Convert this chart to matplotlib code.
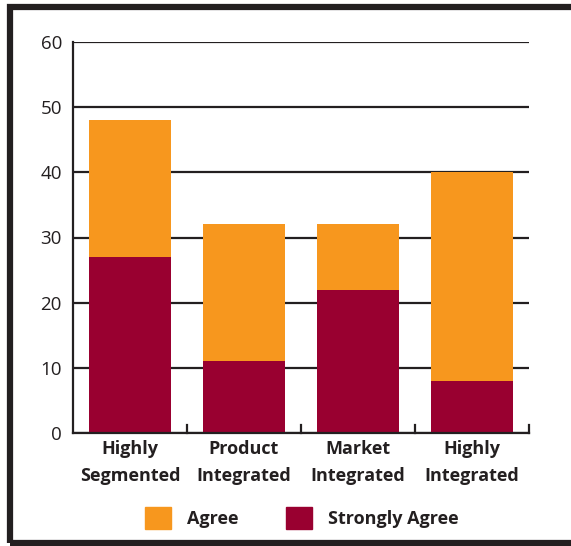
import matplotlib.pyplot as plt
from matplotlib.patches import Rectangle, Patch

plt.rcParams['font.family'] = ['Open Sans', 'DejaVu Sans']

categories = ['Highly\nSegmented', 'Product\nIntegrated', 'Market\nIntegrated', 'Highly\nIntegrated']
strongly_agree = [27, 11, 22, 8]
agree = [21, 21, 10, 32]

orange = '#f7971e'
crimson = '#990030'
dark = '#231f20'

fig = plt.figure(figsize=(5.71, 5.46), dpi=100)
ax = fig.add_axes([73 / 571, 1 - 433 / 546, 456 / 571, 391 / 546])

x = range(len(categories))
ax.bar(x, strongly_agree, width=0.72, color=crimson, zorder=2)
ax.bar(x, agree, width=0.72, bottom=strongly_agree, color=orange, zorder=2)

ax.set_xlim(-0.5, 3.5)
ax.set_ylim(0, 60)
ax.set_yticks(range(0, 61, 10))
ax.yaxis.grid(True, color=dark, linewidth=1.6, zorder=1)
ax.set_axisbelow(True)

for side in ['top', 'right']:
    ax.spines[side].set_visible(False)
for side in ['left', 'bottom']:
    ax.spines[side].set_color(dark)
    ax.spines[side].set_linewidth(1.6)

ax.tick_params(axis='y', length=0, pad=8, labelsize=13.5, labelcolor=dark)
ax.set_xticks(x)
ax.set_xticklabels(categories, fontsize=13, fontweight='bold', color=dark, linespacing=1.65)
ax.tick_params(axis='x', length=0, pad=5)

# boundary ticks between categories
for b in [0.5, 1.5, 2.5, 3.5]:
    ax.plot([b, b], [0, 1.3], color=dark, linewidth=1.6, clip_on=False, zorder=3)

handles = [Patch(color=orange, label='Agree'), Patch(color=crimson, label='Strongly Agree')]
leg = fig.legend(handles=handles, loc='center', bbox_to_anchor=(302 / 571, 1 - 518 / 546),
                 ncol=2, frameon=False, handlelength=1.45, handleheight=1.45,
                 columnspacing=2.6, handletextpad=0.9,
                 prop={'size': 13, 'weight': 'bold'})
for t in leg.get_texts():
    t.set_color(dark)

# frame around the figure
fig.add_artist(Rectangle((9.5 / 571, 1 - 543 / 546), 1.0, (543 - 6.5) / 546,
                         transform=fig.transFigure, fill=False, edgecolor=dark,
                         linewidth=4.5))

fig.savefig('out.png', dpi=100)
